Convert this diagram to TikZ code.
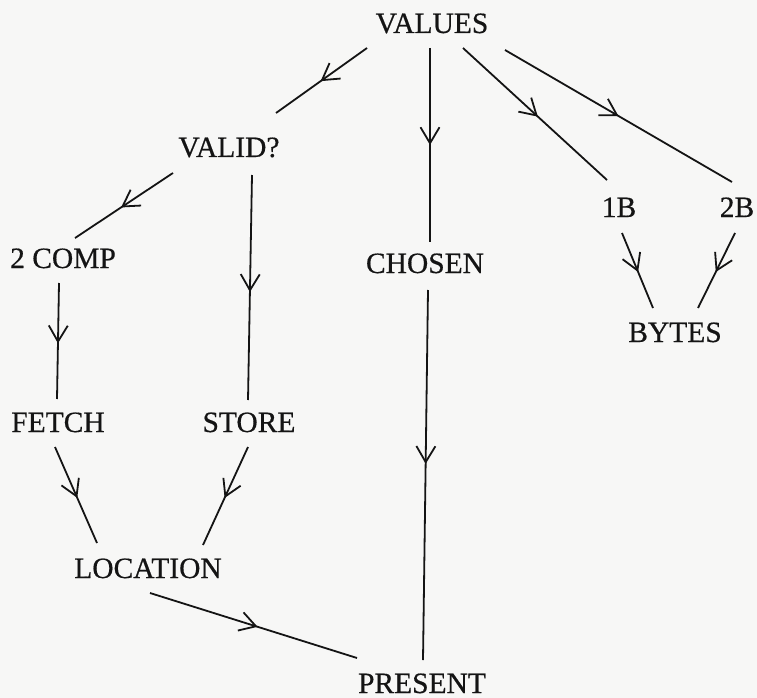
\documentclass[tikz,border=0pt]{standalone}
\usepackage{fontspec}
\setmainfont{Liberation Serif}[FakeBold=0.5]
\usetikzlibrary{arrows.meta,decorations.markings}

\definecolor{paper}{RGB}{247,247,246}
\definecolor{ink}{RGB}{20,20,20}

\tikzset{
  label/.style={anchor=base, inner sep=0pt, text=ink,
    font=\fontsize{29.5}{32}\selectfont},
  flow/.style={draw=ink, line width=1.8pt, postaction={decorate},
    decoration={markings, mark=at position #1 with
      {\arrow{Straight Barb[length=16pt,width=19pt,line width=1.8pt]}}}},
  flow/.default=0.52
}

\begin{document}
\begin{tikzpicture}[x=1pt,y=-1pt,color=ink]
  \fill[paper] (0,0) rectangle (757,698);
  \useasboundingbox (0,0) rectangle (757,698);

  % words, placed on their baselines
  \node[label] (values)   at (432,33)  {VALUES};
  \node[label] (valid)    at (229,157) {VALID?};
  \node[label] (comp)     at (63,268)  {2 COMP};
  \node[label] (chosen)   at (425,273) {CHOSEN};
  \node[label] (oneb)     at (619,217) {1B};
  \node[label] (twob)     at (737,217) {2B};
  \node[label] (bytes)    at (675,342) {BYTES};
  \node[label] (fetch)    at (58,432)  {FETCH};
  \node[label] (store)    at (249,432) {STORE};
  \node[label] (location) at (148,578) {LOCATION};
  \node[label] (present)  at (422,693) {PRESENT};

  % end points of the connectors, clear of the words
  \coordinate (values-a) at (367,48);
  \coordinate (values-b) at (430,48);
  \coordinate (values-c) at (463,48);
  \coordinate (values-d) at (505,50);
  \coordinate (valid-in) at (276,113);
  \coordinate (valid-a)  at (173,173);
  \coordinate (valid-b)  at (252,175);
  \coordinate (chosen-in)  at (430,242);
  \coordinate (chosen-out) at (428,290);
  \coordinate (oneb-in)  at (607,180);
  \coordinate (oneb-out) at (622,233);
  \coordinate (twob-in)  at (732,182);
  \coordinate (twob-out) at (735,233);
  \coordinate (bytes-a)  at (653,308);
  \coordinate (bytes-b)  at (698,308);
  \coordinate (comp-in)  at (75,238);
  \coordinate (comp-out) at (59,283);
  \coordinate (fetch-in)  at (57,399);
  \coordinate (fetch-out) at (55,447);
  \coordinate (store-in)  at (248,400);
  \coordinate (store-out) at (248,447);
  \coordinate (location-a)   at (97,543);
  \coordinate (location-b)   at (203,545);
  \coordinate (location-out) at (150,593);
  \coordinate (present-a) at (357,658);
  \coordinate (present-b) at (423,660);

  % connectors, each with an open arrowhead part way along
  \draw[flow=0.51] (values-a) -- (valid-in);
  \draw[flow=0.50] (values-b) -- (chosen-in);
  \draw[flow=0.52] (values-c) -- (oneb-in);
  \draw[flow=0.50] (values-d) -- (twob-in);
  \draw[flow=0.52] (oneb-out) -- (bytes-a);
  \draw[flow=0.52] (twob-out) -- (bytes-b);
  \draw[flow=0.53] (valid-a) -- (comp-in);
  \draw[flow=0.52] (valid-b) -- (store-in);
  \draw[flow=0.52] (comp-out) -- (fetch-in);
  \draw[flow=0.53] (fetch-out) -- (location-a);
  \draw[flow=0.52] (store-out) -- (location-b);
  \draw[flow=0.52] (location-out) -- (present-a);
  \draw[flow=0.47] (chosen-out) -- (present-b);
\end{tikzpicture}
\end{document}
